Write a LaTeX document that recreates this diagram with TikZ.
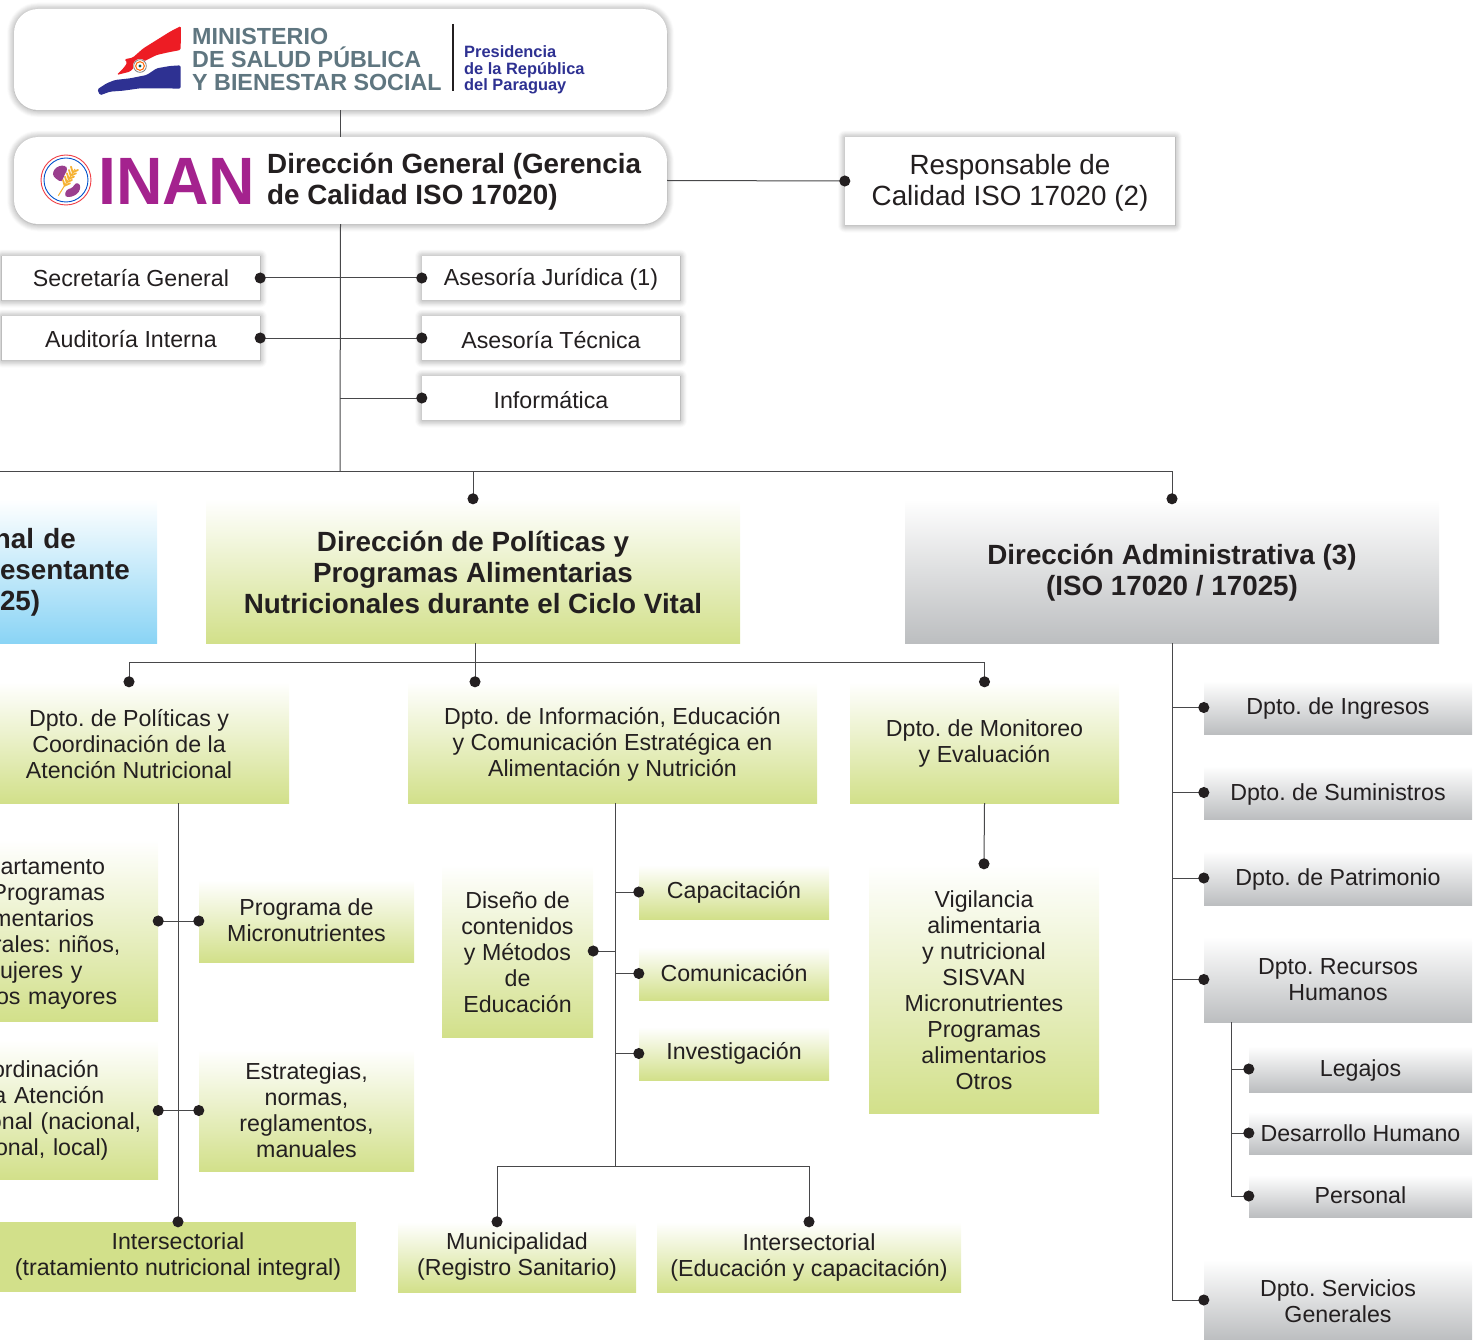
\documentclass[tikz,border=0pt]{standalone}
\usepackage{fontspec}
\usepackage{xcolor}
\setmainfont{Liberation Sans}
\frenchspacing
\usetikzlibrary{arrows.meta,shadows.blur}
\definecolor{inkblack}{HTML}{231F20}
\definecolor{linegray}{HTML}{48484A}
\definecolor{boxgreen}{HTML}{D2E08A}
\definecolor{boxgray}{HTML}{BCBEC0}
\definecolor{boxblue}{HTML}{8AD4F5}
\definecolor{minslate}{HTML}{5F7680}
\definecolor{presnavy}{HTML}{2E3192}
\definecolor{inanpurple}{HTML}{A4228E}
\definecolor{blobpurple}{HTML}{9A3F8E}
\definecolor{wheatgold}{HTML}{F6B233}
\definecolor{flagred}{HTML}{ED1C24}
\newcommand{\deptfont}{\fontsize{23.2}{26}\selectfont}
\newcommand{\headfont}{\fontsize{27.8}{31}\selectfont}
\newcommand{\nudge}[1]{\rule{0pt}{#1}}
\tikzset{
    plainbox/.style={rectangle, inner sep=0pt, align=center, text=inkblack, font=\deptfont},
    shadowbox/.style={plainbox, fill=white, blur shadow={shadow xshift=0pt, shadow yshift=-0.5pt, shadow blur radius=7pt, shadow blur steps=8, shadow opacity=45}},
    roundbox/.style={shadowbox, rounded corners=24pt},
    greenbox/.style={plainbox, top color=white, bottom color=boxgreen},
    graybox/.style={plainbox, top color=white, bottom color=boxgray},
    bluebox/.style={plainbox, top color=white, bottom color=boxblue},
    headtext/.style={font=\headfont\bfseries},
    link/.style={draw=linegray, line width=1pt},
    dotline/.style={link, -{Circle[length=11pt, color=inkblack]}, shorten >=-5.5pt},
    dottwo/.style={dotline, {Circle[length=11pt, color=inkblack]}-{Circle[length=11pt, color=inkblack]}, shorten <=-5.5pt},
}
\begin{document}
\begin{tikzpicture}[x=1pt, y=-1pt]
    \useasboundingbox (0,0) rectangle (1477,1340);
    \clip (0,0) rectangle (1477,1340);

    \node[roundbox, minimum width=653pt, minimum height=101pt] (ministerio) at (340.5, 59.5) {};
    \node[roundbox, minimum width=653pt, minimum height=87pt] (inan) at (340.5, 180.5) {};
    \node[shadowbox, minimum width=330pt, minimum height=88pt, font=\fontsize{27.8}{31}\selectfont] (calidad) at (1010, 181) {\nudge{23.5pt}Responsable de\\Calidad ISO 17020 (2)};

    \begin{scope}[shift={(90,20)}, x=0.3333pt, y=-0.3333pt, rounded corners=1.5pt]
        \fill[flagred] (273,18) -- (272,90) -- (235,97) -- (200,105) -- (170,120) -- (140,135) -- (120,155) -- (80,165) -- (100,145) -- (112,128) -- (103,118) -- (128,113) -- (160,85) -- (200,60) -- (240,35) -- cycle;
        \fill[presnavy] (272,136) -- (272,206) -- (220,205) -- (150,205) -- (100,212) -- (60,215) -- (30,226) -- (22,208) -- (50,190) -- (75,180) -- (120,175) -- (170,165) -- (200,145) -- (240,138) -- cycle;
        \fill[white] (150,138) circle (21);
        \draw[gray, line width=0.8pt] (150,138) circle (19);
        \draw[orange!80!red, line width=1pt] (150,138) circle (13);
        \fill[teal!70!black] (150,138) circle (5);
    \end{scope}

    \node[anchor=west, inner sep=0pt, align=left, text=minslate, font=\fontsize{23.3}{23}\selectfont\bfseries] (minname) at (192, 59.5) {MINISTERIO\\DE SALUD PÚBLICA\\Y BIENESTAR SOCIAL};
    \node[anchor=west, inner sep=0pt, align=left, text=presnavy, font=\fontsize{16.4}{16.3}\selectfont\bfseries] (presname) at (464, 70) {Presidencia\\de la República\\del Paraguay};
    \draw[inkblack, line width=1.2pt] (453, 24) -- (453, 91);

    \begin{scope}[shift={(30,145)}, x=0.3333pt, y=-0.3333pt]
        \draw[flagred!85!white, line width=0.9pt] (108,105) circle (75);
        \draw[blue!60!cyan!80!black, line width=0.9pt] (108,105) circle (66);
        \fill[blobpurple, rounded corners=3pt] (66,88) -- (78,66) -- (104,60) -- (114,72) -- (102,92) -- (96,112) -- (78,102) -- cycle;
        \fill[blobpurple, rounded corners=3pt] (104,156) -- (108,134) -- (130,128) -- (136,112) -- (152,118) -- (148,142) -- (126,156) -- cycle;
        \draw[wheatgold, line width=1pt] (85,152) -- (135,72);
        \foreach \s in {0,0.2,0.4,0.6,0.8}
            {
                \draw[wheatgold, line width=1.8pt, line cap=round] ({104+\s*30},{122-\s*50}) -- ++(-5,-17);
                \draw[wheatgold, line width=1.8pt, line cap=round] ({104+\s*30},{122-\s*50}) -- ++(16,-7);
            }
    \end{scope}

    \node[anchor=west, inner sep=0pt, text=inanpurple, font=\fontsize{67}{67}\selectfont\bfseries] (inanname) at (98, 181) {\scalebox{.96}[1]{INAN}};
    \node[anchor=west, inner sep=0pt, align=left, text=inkblack, headtext] (inantitle) at (267, 181.5) {Dirección General (Gerencia\\de Calidad ISO 17020)};

    \node[shadowbox, minimum width=258pt, minimum height=44pt] (secretaria) at (131, 278) {Secretaría General};
    \node[shadowbox, minimum width=258pt, minimum height=44pt] (auditoria) at (131, 338) {\nudge{19.5pt}Auditoría Interna};
    \node[shadowbox, minimum width=258pt, minimum height=44pt] (juridica) at (551, 278) {\nudge{20.5pt}Asesoría Jurídica (1)};
    \node[shadowbox, minimum width=258pt, minimum height=44pt] (tecnica) at (551, 338) {\nudge{21.5pt}Asesoría Técnica};
    \node[shadowbox, minimum width=258pt, minimum height=44pt] (informatica) at (551, 398) {\nudge{21.5pt}Informática};

    \node[bluebox, headtext, align=left, text width=157pt, minimum height=144pt] (repres) at (78.5, 571) {\nudge{22.5pt}\hspace*{-6pt}nal de\\esentante\\25)};
    \node[greenbox, headtext, minimum width=534pt, minimum height=144pt] (polit) at (473, 571) {\nudge{22.5pt}Dirección de Políticas y\\Programas Alimentarias\\Nutricionales durante el Ciclo Vital};
    \node[graybox, headtext, minimum width=534pt, minimum height=144pt] (admin) at (1172, 571) {\nudge{23.5pt}Dirección Administrativa (3)\\(ISO 17020 / 17025)};

    \node[greenbox, minimum width=320pt, minimum height=121pt] (pdpto) at (129, 742.5) {\nudge{20.5pt}Dpto. de Políticas y\\Coordinación de la\\Atención Nutricional};
    \node[greenbox, minimum width=409pt, minimum height=121pt] (info) at (612.5, 742.5) {\nudge{20.5pt}Dpto. de Información, Educación\\y Comunicación Estratégica en\\Alimentación y Nutrición};
    \node[greenbox, minimum width=269pt, minimum height=121pt] (moni) at (984.5, 742.5) {\nudge{19.5pt}Dpto. de Monitoreo\\y Evaluación};

    \node[greenbox, align=left, text width=158pt, minimum height=181pt] (prog) at (79, 930.5) {\nudge{23pt}\hspace*{0.6pt}artamento\\\hspace*{-8.4pt}Programas\\\hspace*{-7.8pt}mentarios\\\hspace*{-6pt}rales: niños,\\ujeres y\\\hspace*{-4pt}os mayores};
    \node[greenbox, align=left, text width=158pt, minimum height=139pt] (coord) at (79, 1109.5) {\nudge{19.5pt}\hspace*{-8pt}ordinación\\\hspace*{-6.6pt}a Atención\\\hspace*{-11pt}onal (nacional,\\\hspace*{-5pt}onal, local)};
    \node[greenbox, minimum width=215pt, minimum height=82pt] (micro) at (306.5, 921) {Programa de\\Micronutrientes\rule[-2pt]{0pt}{0pt}};
    \node[greenbox, minimum width=215pt, minimum height=121pt] (estrat) at (306.5, 1110.5) {Estrategias,\\normas,\\reglamentos,\\manuales};
    \node[plainbox, fill=boxgreen, minimum width=356pt, minimum height=70pt] (inter1) at (178, 1257) {Intersectorial\\(tratamiento nutricional integral)\rule[-6pt]{0pt}{0pt}};

    \node[greenbox, minimum width=151pt, minimum height=172pt] (diseno) at (517.5, 951) {\nudge{19.5pt}Diseño de\\contenidos\\y Métodos\\de\\Educación};
    \node[greenbox, minimum width=190pt, minimum height=54pt] (capac) at (734, 892) {Capacitación};
    \node[greenbox, minimum width=190pt, minimum height=53pt] (comun) at (734, 973.5) {Comunicación};
    \node[greenbox, minimum width=190pt, minimum height=53pt] (inves) at (734, 1053.5) {Investigación};
    \node[greenbox, minimum width=238pt, minimum height=70pt] (muni) at (517, 1257) {Municipalidad\\(Registro Sanitario)\rule[-6pt]{0pt}{0pt}};
    \node[greenbox, minimum width=304pt, minimum height=70pt] (inter2) at (809, 1257) {Intersectorial\\(Educación y capacitación)\rule[-4pt]{0pt}{0pt}};
    \node[greenbox, minimum width=230pt, minimum height=249pt] (vigil) at (984, 988.5) {\nudge{19.5pt}Vigilancia\\alimentaria\\y nutricional\\SISVAN\\Micronutrientes\\Programas\\alimentarios\\Otros};

    \node[graybox, minimum width=268pt, minimum height=53pt] (ingresos) at (1338, 707.5) {\nudge{19.5pt}Dpto. de Ingresos};
    \node[graybox, minimum width=268pt, minimum height=53pt] (sumin) at (1338, 792.5) {\nudge{20pt}Dpto. de Suministros};
    \node[graybox, minimum width=268pt, minimum height=54pt] (patrim) at (1338, 878) {\nudge{19.5pt}Dpto. de Patrimonio};
    \node[graybox, minimum width=268pt, minimum height=85pt] (recursos) at (1338, 979.5) {Dpto. Recursos\\Humanos};
    \node[graybox, minimum width=223pt, minimum height=46pt] (legajos) at (1360.5, 1069) {\nudge{19.5pt}Legajos};
    \node[graybox, minimum width=223pt, minimum height=42pt] (desarrollo) at (1360.5, 1133) {Desarrollo Humano};
    \node[graybox, minimum width=223pt, minimum height=42pt] (personal) at (1360.5, 1196) {Personal\rule[-2pt]{0pt}{0pt}};
    \node[graybox, minimum width=268pt, minimum height=80pt] (servicios) at (1338, 1300) {\nudge{19.5pt}Dpto. Servicios\\Generales};

    \coordinate (inanbus) at (340, 471);
    \coordinate (leftbus) at (0, 471);
    \coordinate (politbus) at (475, 662);
    \coordinate (infobus) at (615, 1166);
    \coordinate (recbus) at (1231, 1196);

    \draw[link] (ministerio.south) -- (inan.north);
    \draw[link] (inan.south) -- (inanbus);
    \draw[dotline] (inan.east) -- (calidad.west);
    \draw[dottwo] (secretaria.east) -- (juridica.west);
    \draw[dottwo] (auditoria.east) -- (tecnica.west);
    \draw[dotline] (inanbus |- informatica.west) -- (informatica.west);

    \draw[link] (leftbus) -- (inanbus);
    \draw[dotline] (inanbus) -| (polit.north);
    \draw[dotline] (inanbus) -| (admin.north);

    \draw[link] (politbus |- polit.south) -- (politbus);
    \draw[dotline] (politbus) -| (pdpto.north);
    \draw[dotline] (politbus) -- (politbus |- info.north);
    \draw[dotline] (politbus) -| (moni.north);

    \draw[dotline] (inter1.north |- pdpto.south) -- (inter1.north);
    \draw[dottwo] (prog.east |- micro.west) -- (micro.west);
    \draw[dottwo] (coord.east |- estrat.west) -- (estrat.west);

    \draw[link] (infobus |- info.south) -- (infobus);
    \draw[dotline] (infobus |- diseno.east) -- (diseno.east);
    \draw[dotline] (infobus |- capac.west) -- (capac.west);
    \draw[dotline] (infobus |- comun.west) -- (comun.west);
    \draw[dotline] (infobus |- inves.west) -- (inves.west);
    \draw[dotline] (infobus) -| ([xshift=-20pt]muni.north);
    \draw[dotline] (infobus) -| (inter2.north);

    \draw[dotline] (moni.south) -- (vigil.north);

    \draw[dotline] (admin.south) |- (servicios.west);
    \draw[dotline] (admin.south |- ingresos.west) -- (ingresos.west);
    \draw[dotline] (admin.south |- sumin.west) -- (sumin.west);
    \draw[dotline] (admin.south |- patrim.west) -- (patrim.west);
    \draw[dotline] (admin.south |- recursos.west) -- (recursos.west);

    \draw[dotline] (recbus |- recursos.south) |- (personal.west);
    \draw[dotline] (recbus |- legajos.west) -- (legajos.west);
    \draw[dotline] (recbus |- desarrollo.west) -- (desarrollo.west);
\end{tikzpicture}
\end{document}
